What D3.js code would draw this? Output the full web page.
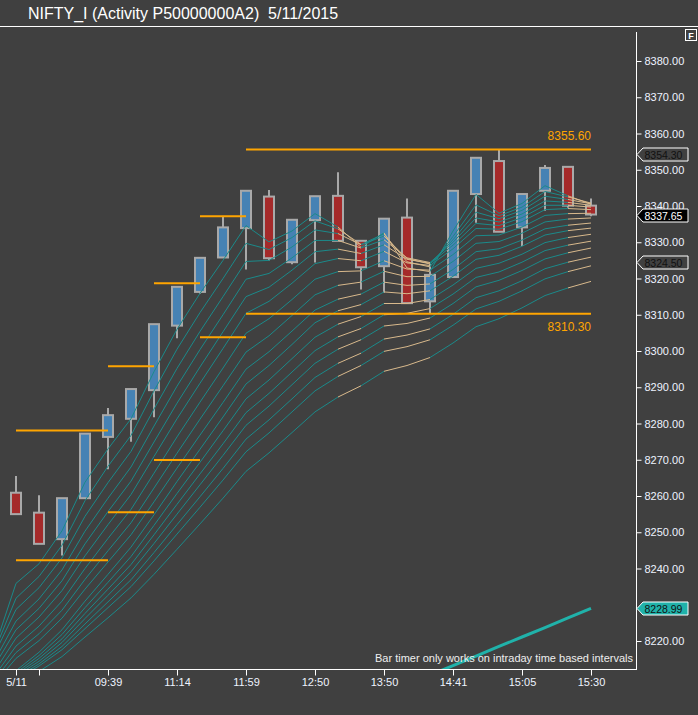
<!DOCTYPE html>
<html><head><meta charset="utf-8">
<script src="https://d3js.org/d3.v7.min.js"></script>
<style>html,body{margin:0;padding:0;background:#404040;overflow:hidden}svg{display:block}</style>
</head><body>
<script>
// ---------- data ----------
const title = "NIFTY_I (Activity P50000000A2)  5/11/2015";
const barIndex = d3.range(26);
const openVals  = [8260.9,8255.4,8248.1,8259.4,8276.3,8281.3,8289.2,8307.0,8316.3,8325.8,8333.9,8342.6,8324.5,8336.1,8342.8,8330.4,8323.4,8336.8,8313.7,8320.4,8343.3,8352.4,8334.1,8344.2,8350.8,8340.1];
const highVals  = [8265.5,8260.2,8259.4,8277.2,8284.3,8289.5,8307.4,8317.7,8325.7,8337.1,8344.2,8344.4,8336.2,8342.7,8349.3,8330.4,8336.5,8342.1,8324.0,8344.2,8353.3,8355.6,8343.3,8351.3,8350.8,8342.1];
const lowVals   = [8255.0,8246.8,8243.6,8259.4,8267.4,8275.0,8281.7,8303.5,8315.8,8325.8,8322.5,8325.0,8323.9,8324.4,8330.4,8317.0,8316.1,8313.2,8310.3,8320.4,8335.4,8332.9,8329.0,8338.7,8339.5,8337.2];
const closeVals = [8255.0,8246.8,8259.4,8277.2,8282.3,8289.5,8307.4,8317.7,8325.7,8334.1,8344.2,8325.6,8336.2,8342.7,8330.4,8323.1,8336.5,8313.2,8321.0,8344.2,8353.3,8332.9,8343.3,8350.5,8340.1,8337.65];

const tickBars   = [0,1,4,7,10,13,16,19,22,25];
const tickLabels = ["5/11","","09:39","11:14","11:59","12:50","13:50","14:41","15:05","15:30"];
const yTickValues = d3.range(8220, 8381, 10);

// ribbon values per bar (bar -1 .. 25), 16 lines each (fast -> slow)
const ribbonBars = d3.range(-1, 26);
const ribbonRows = [
[8216.8,8216.3,8215.5,8213.8,8212.5,8211.0,8209.8,8208.8,8207.8,8204.5,8204.5,8204.5,8204.5,8204.5,8204.5,8203.8],
[8235.9,8231.8,8228.7,8225.5,8223.1,8220.8,8218.6,8216.8,8215.2,8211.8,8211.2,8210.7,8210.3,8209.8,8209.4,8208.2],
[8241.3,8237.8,8234.7,8231.6,8229.0,8226.6,8224.1,8222.0,8220.1,8216.9,8216.0,8215.2,8214.4,8213.7,8213.1,8211.6],
[8250.4,8246.4,8242.9,8239.6,8236.6,8233.9,8231.0,8228.5,8226.3,8223.1,8221.8,8220.6,8219.6,8218.5,8217.6,8215.7],
[8263.8,8258.7,8254.4,8250.3,8246.8,8243.5,8240.0,8237.0,8234.3,8231.0,8229.2,8227.6,8226.2,8224.7,8223.4,8221.1],
[8273.0,8268.2,8263.7,8259.4,8255.7,8252.1,8248.3,8244.9,8241.8,8238.4,8236.2,8234.3,8232.6,8230.8,8229.2,8226.4],
[8281.3,8276.7,8272.3,8268.0,8264.1,8260.4,8256.3,8252.6,8249.3,8245.9,8243.3,8241.1,8239.1,8236.9,8235.0,8231.9],
[8294.3,8289.0,8284.0,8279.3,8274.9,8270.9,8266.3,8262.2,8258.4,8254.8,8251.9,8249.3,8246.9,8244.4,8242.1,8238.4],
[8306.0,8300.5,8295.2,8290.3,8285.6,8281.3,8276.3,8271.8,8267.7,8264.0,8260.7,8257.7,8255.0,8252.1,8249.5,8245.3],
[8315.9,8310.6,8305.4,8300.4,8295.6,8291.1,8285.9,8281.2,8276.8,8272.9,8269.3,8266.1,8263.1,8259.8,8256.9,8252.3],
[8325.0,8320.0,8315.0,8310.0,8305.3,8300.7,8295.3,8290.4,8285.8,8281.8,8278.0,8274.4,8271.2,8267.6,8264.4,8259.4],
[8334.6,8329.7,8324.7,8319.8,8315.0,8310.4,8304.9,8299.7,8295.0,8290.9,8286.8,8283.0,8279.5,8275.7,8272.2,8266.8],
[8330.1,8328.0,8325.0,8321.4,8317.6,8313.7,8308.9,8304.2,8299.8,8296.0,8292.0,8288.3,8284.8,8281.0,8277.4,8271.9],
[8333.1,8331.3,8328.7,8325.7,8322.3,8318.7,8314.2,8309.8,8305.5,8301.8,8297.9,8294.2,8290.7,8286.8,8283.2,8277.5],
[8337.9,8335.9,8333.4,8330.5,8327.4,8324.1,8319.8,8315.5,8311.3,8307.8,8303.8,8300.1,8296.6,8292.7,8289.0,8283.2],
[8334.2,8333.7,8332.4,8330.5,8328.1,8325.5,8321.9,8318.1,8314.3,8311.1,8307.4,8303.9,8300.5,8296.6,8293.0,8287.3],
[8328.6,8329.4,8329.3,8328.4,8326.9,8324.9,8322.1,8319.0,8315.7,8312.8,8309.5,8306.2,8303.1,8299.4,8296.0,8290.4],
[8332.6,8332.3,8331.7,8330.7,8329.3,8327.5,8324.9,8322.0,8319.0,8316.3,8313.1,8310.0,8306.9,8303.3,8299.9,8294.4],
[8322.9,8324.6,8325.5,8325.7,8325.3,8324.3,8322.6,8320.5,8318.1,8315.8,8313.1,8310.4,8307.6,8304.4,8301.2,8296.0],
[8321.9,8323.2,8324.0,8324.4,8324.2,8323.6,8322.3,8320.6,8318.5,8316.6,8314.2,8311.7,8309.1,8306.1,8303.1,8298.2],
[8333.1,8331.6,8330.7,8330.0,8329.2,8328.2,8326.6,8324.7,8322.5,8320.6,8318.2,8315.7,8313.1,8310.1,8307.1,8302.2],
[8343.2,8340.3,8338.3,8336.7,8335.2,8333.8,8331.8,8329.7,8327.4,8325.3,8322.8,8320.3,8317.7,8314.7,8311.6,8306.7],
[8338.0,8337.3,8336.5,8335.6,8334.6,8333.6,8332.0,8330.2,8328.2,8326.4,8324.2,8321.8,8319.5,8316.6,8313.7,8308.9],
[8340.7,8339.7,8338.8,8337.8,8336.8,8335.7,8334.2,8332.5,8330.6,8328.9,8326.7,8324.5,8322.2,8319.4,8316.6,8311.9],
[8345.6,8344.0,8342.7,8341.4,8340.2,8339.0,8337.4,8335.6,8333.7,8332.0,8329.9,8327.7,8325.4,8322.7,8319.9,8315.3],
[8342.8,8342.5,8341.8,8341.0,8340.2,8339.3,8337.9,8336.4,8334.7,8333.2,8331.3,8329.2,8327.1,8324.5,8321.9,8317.4],
[8340.5,8340.8,8340.6,8340.2,8339.7,8339.0,8338.0,8336.7,8335.3,8333.9,8332.2,8330.3,8328.4,8325.9,8323.5,8319.2]
];
// direction of each ribbon segment ending at bar i (bars 0..25)
const ribbonDir = ["up","up","up","up","up","up","up","up","up","up","up","up","up","up","up","down","up","down","down","up","up","up","up","up","up","down"];

// thick teal indicator line
const trendBars = [17,18,19,20,21,22,23,24,25];
const trendVals = [8207.9,8210.6,8213.2,8215.8,8218.5,8221.1,8223.7,8226.4,8228.99];

// session high / low levels
const levelFrom  = [0,4,6,8,10];
const levelTo    = [4,6,8,10,25];
const levelHigh  = [8278.1,8295.8,8318.7,8337.2,8355.6];
const levelLow   = [8242.3,8255.5,8269.9,8303.8,8310.3];

// price markers on the right axis
const markerVals = [8354.30, 8337.65, 8324.50, 8228.99];
const markerKind = ["plain","last","plain","trend"];

const footNote = "Bar timer only works on intraday time based intervals";

// ---------- drawing ----------
const W = 698, H = 715;
const BG = "#404040";
const plotL = 0, plotR = 636, plotT = 28, plotB = 669;
const FONT = "'Liberation Sans', Arial, sans-serif";

const svg = d3.select("body").append("svg").attr("width", W).attr("height", H)
  .style("font-family", FONT);
svg.append("rect").attr("width", W).attr("height", H).attr("fill", BG);

const x = d3.scaleLinear().domain([0, 25]).range([16, 591]);
const y = d3.scaleLinear().domain([8220, 8380]).range([641, 61]);

// header
svg.append("text").attr("x", 28).attr("y", 19).attr("fill", "#ffffff")
  .attr("font-size", 16).style("white-space", "pre").attr("xml:space", "preserve").text(title);
svg.append("line").attr("x1", 0).attr("x2", W).attr("y1", 26.5).attr("y2", 26.5)
  .attr("stroke", "#ffffff").attr("stroke-width", 1);
svg.append("rect").attr("x", 685.5).attr("y", 29.5).attr("width", 11).attr("height", 11)
  .attr("fill", BG).attr("stroke", "#ffffff").attr("stroke-width", 1);
svg.append("text").attr("x", 691).attr("y", 38.5).attr("text-anchor", "middle")
  .attr("fill", "#ffffff").attr("font-size", 9).attr("font-weight", "bold").text("F");

// clip
svg.append("clipPath").attr("id", "plot").append("rect")
  .attr("x", plotL).attr("y", plotT).attr("width", plotR - plotL).attr("height", plotB - plotT);
const g = svg.append("g").attr("clip-path", "url(#plot)");

// candles
const bars = barIndex.map(i => ({i, o: openVals[i], h: highVals[i], l: lowVals[i], c: closeVals[i]}));
const cg = g.append("g");
cg.selectAll("line.wick").data(bars).join("line").attr("class", "wick")
  .attr("x1", d => x(d.i)).attr("x2", d => x(d.i))
  .attr("y1", d => y(d.h)).attr("y2", d => y(d.l))
  .attr("stroke", "#a9a9a9").attr("stroke-width", 2);
cg.selectAll("rect.body").data(bars).join("rect").attr("class", "body")
  .attr("x", d => x(d.i) - 5).attr("width", 10)
  .attr("y", d => y(Math.max(d.o, d.c)))
  .attr("height", d => Math.max(1, Math.abs(y(d.o) - y(d.c))))
  .attr("fill", d => d.c >= d.o ? "#4682b4" : "#a52a2a")
  .attr("stroke", "#a9a9a9").attr("stroke-width", 2);

// ribbon
const rg = g.append("g").attr("fill", "none").attr("stroke-width", 1);
const segs = [];
for (let k = 0; k < 16; k++) {
  for (let r = 1; r < ribbonRows.length; r++) {
    segs.push({k, b0: ribbonBars[r - 1], b1: ribbonBars[r], v0: ribbonRows[r - 1][k], v1: ribbonRows[r][k], dir: ribbonDir[ribbonBars[r]]});
  }
}
rg.selectAll("line").data(segs).join("line")
  .attr("x1", d => x(d.b0)).attr("x2", d => x(d.b1))
  .attr("y1", d => y(d.v0)).attr("y2", d => y(d.v1))
  .attr("stroke", d => d.dir === "up" ? "#1b8a8a" : "#d8b98c");

// thick indicator line
g.append("path").datum(trendBars.map((b, j) => [b, trendVals[j]]))
  .attr("d", d3.line().x(d => x(d[0])).y(d => y(d[1])))
  .attr("fill", "none").attr("stroke", "#20b2aa").attr("stroke-width", 3);

// levels
const lv = levelFrom.map((f, j) => ({f, t: levelTo[j], hi: levelHigh[j], lo: levelLow[j]}));
const lg = g.append("g").attr("stroke", "#ffa500").attr("stroke-width", 2);
lg.selectAll("line.hi").data(lv).join("line").attr("class", "hi")
  .attr("x1", d => x(d.f)).attr("x2", d => x(d.t)).attr("y1", d => y(d.hi)).attr("y2", d => y(d.hi));
lg.selectAll("line.lo").data(lv).join("line").attr("class", "lo")
  .attr("x1", d => x(d.f)).attr("x2", d => x(d.t)).attr("y1", d => y(d.lo)).attr("y2", d => y(d.lo));
const lastLv = lv[lv.length - 1];
g.append("text").attr("x", x(lastLv.t)).attr("y", y(lastLv.hi) - 9).attr("text-anchor", "end")
  .attr("fill", "#ffa500").attr("font-size", 12).text(d3.format(".2f")(lastLv.hi));
g.append("text").attr("x", x(lastLv.t)).attr("y", y(lastLv.lo) + 17).attr("text-anchor", "end")
  .attr("fill", "#ffa500").attr("font-size", 12).text(d3.format(".2f")(lastLv.lo));

// foot note
svg.append("text").attr("x", 633).attr("y", 662).attr("text-anchor", "end")
  .attr("fill", "#eeeeee").attr("font-size", 11).text(footNote);

// price markers (values) used to hide tick labels they fully cover
const markerData = markerVals.map((v, j) => ({v, kind: markerKind[j]}));
const covered = t => markerData.some(m => Math.abs(y(m.v) - y(t)) < 5);

// axes
const yAxis = d3.axisRight(y).tickValues(yTickValues).tickFormat(d3.format(".2f")).tickSize(5).tickPadding(3);
const ya = svg.append("g").attr("transform", `translate(${plotR + 0.5},0)`).call(yAxis);
ya.select(".domain").remove();
ya.selectAll("line").attr("stroke", "#ffffff");
ya.selectAll("text").attr("fill", "#eef3ff").attr("font-size", 11).attr("font-family", FONT);
ya.selectAll(".tick").filter(t => covered(t)).remove();
svg.append("line").attr("x1", plotR + 0.5).attr("x2", plotR + 0.5).attr("y1", 32).attr("y2", plotB + 0.5)
  .attr("stroke", "#ffffff");

const xAxis = d3.axisBottom(x).tickValues(tickBars).tickFormat((d, j) => tickLabels[j]).tickSize(6).tickPadding(3);
const xa = svg.append("g").attr("transform", `translate(0,${plotB + 0.5})`).call(xAxis);
xa.select(".domain").remove();
xa.selectAll("line").attr("stroke", "#ffffff");
xa.selectAll("text").attr("fill", "#eef3ff").attr("font-size", 11).attr("font-family", FONT);
svg.append("line").attr("x1", 0).attr("x2", plotR + 1).attr("y1", plotB + 0.5).attr("y2", plotB + 0.5)
  .attr("stroke", "#ffffff");

// right-axis price markers
const markerStyle = {
  plain: {fill: BG, text: "#111111"},
  last:  {fill: "#000000", text: "#ffffff"},
  trend: {fill: "#20b2aa", text: "#111111"}
};
const mk = svg.append("g").selectAll("g").data(markerData).join("g")
  .attr("transform", d => `translate(0,${Math.round(y(d.v)) + 0.5})`);
mk.append("path")
  .attr("d", "M637,0 L643,-6.5 L688,-6.5 L688,6.5 L643,6.5 Z")
  .attr("fill", d => markerStyle[d.kind].fill).attr("stroke", "#ffffff").attr("stroke-width", 1);
mk.append("text").attr("x", 644.5).attr("y", 4).attr("font-size", 10.5)
  .attr("fill", d => markerStyle[d.kind].text).text(d => d3.format(".2f")(d.v));
</script>
</body></html>
